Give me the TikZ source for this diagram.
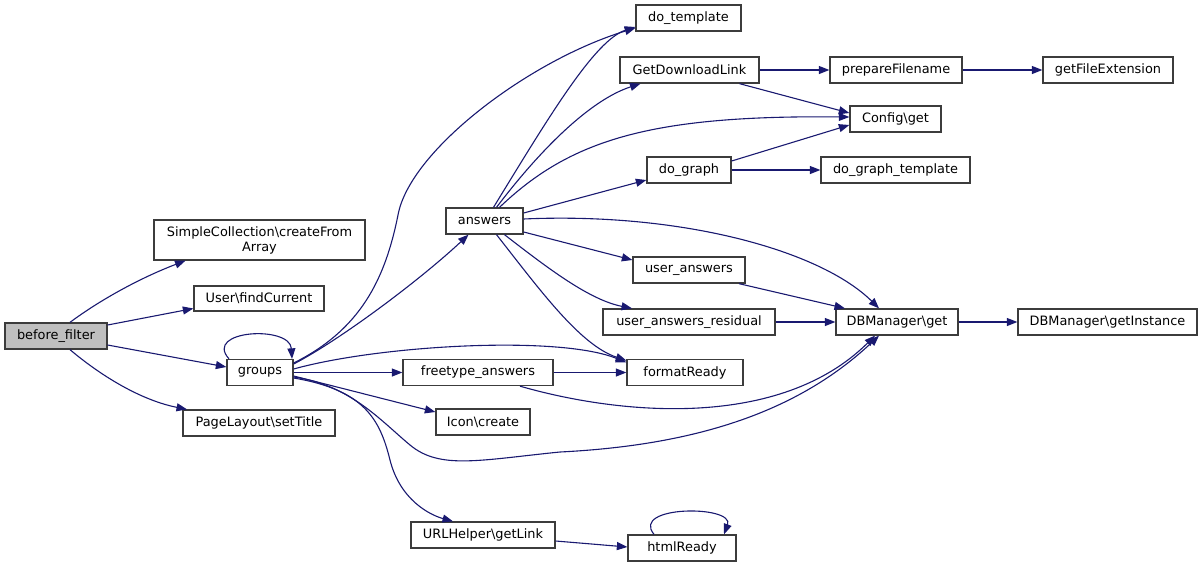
\documentclass[tikz,border=0pt]{standalone}
\usepackage{fontspec}
\setmainfont{DejaVu Sans}
\usetikzlibrary{arrows.meta}
\definecolor{edgec}{HTML}{191970}
\definecolor{boxc}{HTML}{3C3C3C}
\definecolor{rootc}{HTML}{BFBFBF}
\begin{document}
\begin{tikzpicture}[x=1pt,y=-1pt,
  font=\fontsize{12.9}{15}\selectfont,
  box/.style={draw=boxc, line width=1.3pt, fill=white, inner sep=0pt, minimum height=26pt},
  edge/.style={draw=edgec, line width=1.1pt, -{Triangle[length=10.5pt,width=8pt]}}]
\useasboundingbox (0,0) rectangle (1203,568);
% nodes
\node[box, fill=rootc, minimum width=102pt] (bf) at (56,336) {before\_filter};
\node[box, minimum width=211pt, minimum height=40pt, align=center] (sc) at (259.5,240) {SimpleCollection\textbackslash createFrom\\Array};
\node[box, minimum width=130pt, minimum height=25pt] (uf) at (259,298.5) {User\textbackslash findCurrent};
\node[box, minimum width=66pt] (gr) at (260,372.5) {groups};
\node[box, minimum width=152pt] (pl) at (259,423) {PageLayout\textbackslash setTitle};
\node[box, minimum width=77pt] (an) at (484.5,221) {answers};
\node[box, minimum width=105pt] (dt) at (688.5,18) {do\_template};
\node[box, minimum width=139pt] (gdl) at (689.5,70) {GetDownloadLink};
\node[box, minimum width=132pt] (pf) at (896,70) {prepareFilename};
\node[box, minimum width=130pt] (gfe) at (1108,70) {getFileExtension};
\node[box, minimum width=91pt] (cg) at (895.5,119) {Config\textbackslash get};
\node[box, minimum width=84pt] (dg) at (689,170) {do\_graph};
\node[box, minimum width=149pt] (dgt) at (895.5,170) {do\_graph\_template};
\node[box, minimum width=112pt] (ua) at (689,270) {user\_answers};
\node[box, minimum width=172pt] (uar) at (689,322) {user\_answers\_residual};
\node[box, minimum width=122pt] (dbg) at (897,322) {DBManager\textbackslash get};
\node[box, minimum width=179pt] (dbi) at (1107.5,322) {DBManager\textbackslash getInstance};
\node[box, minimum width=116pt] (fr) at (685,372.5) {formatReady};
\node[box, minimum width=150pt] (fa) at (478,372.5) {freetype\_answers};
\node[box, minimum width=94pt] (ic) at (483,422) {Icon\textbackslash create};
\node[box, minimum width=144pt] (ul) at (483,535) {URLHelper\textbackslash getLink};
\node[box, minimum width=108pt] (hr) at (682,548) {htmlReady};
% edges from before_filter
\draw[edge] ([xshift=14pt]bf.north) .. controls (100,300) and (140,278) .. ([xshift=-74pt]sc.south);
\draw[edge] ([yshift=11pt]bf.east) -- ([yshift=-10pt]uf.west);
\draw[edge] ([yshift=-9pt]bf.east) -- ([yshift=5.5pt]gr.west);
\draw[edge] ([xshift=14pt]bf.south) .. controls (100,375) and (140,400) .. ([xshift=-72pt]pl.north);
% edges from groups
\draw[edge] ([xshift=-31pt]gr.north) .. controls (203,330) and (290,325) .. ([xshift=32pt]gr.north);
\draw[edge] ([yshift=8.5pt]gr.east) .. controls (340,340) and (420,280) .. ([xshift=-16pt]an.south);
\draw[edge] ([yshift=9.5pt]gr.east) .. controls (360,330) and (385,280) .. (398,215) .. controls (410,150) and (530,60) .. ([yshift=-10pt]dt.west);
\draw[edge] ([yshift=3.5pt]gr.east) .. controls (380,345) and (560,335) .. ([yshift=10pt]fr.west);
\draw[edge] (gr.east) -- (fa.west);
\draw[edge] ([yshift=-3.5pt]gr.east) -- ([yshift=10pt]ic.west);
\draw[edge] ([yshift=-4.5pt]gr.east) .. controls (350,385) and (380,420) .. (410,445) .. controls (440,470) and (480,460) .. (560,452) .. controls (700,445) and (800,410) .. ([xshift=-18pt]dbg.south);
\draw[edge] ([yshift=-5.5pt]gr.east) .. controls (365,390) and (380,420) .. (390,460) .. controls (400,500) and (430,515) .. ([xshift=-30pt]ul.north);
% edges from answers
\draw[edge] ([xshift=9pt]an.north) .. controls (550,115) and (595,40) .. ([yshift=-9pt]dt.west);
\draw[edge] ([xshift=12pt]an.north) .. controls (540,150) and (590,100) .. ([xshift=-49pt]gdl.south);
\draw[edge] ([xshift=15pt]an.north) .. controls (570,140) and (650,115) .. ([yshift=2pt]cg.west);
\draw[edge] ([yshift=8pt]an.east) -- ([yshift=-10pt]dg.west);
\draw[edge] ([yshift=2pt]an.east) .. controls (680,212) and (820,250) .. ([xshift=-18pt]dbg.north);
\draw[edge] ([yshift=-11pt]an.east) -- ([yshift=10pt]ua.west);
\draw[edge] ([xshift=20pt]an.south) .. controls (550,270) and (590,300) .. ([xshift=-57pt]uar.north);
\draw[edge] ([xshift=12pt]an.south) .. controls (540,290) and (580,345) .. ([yshift=12pt]fr.west);
% other edges
\draw[edge] (gdl.east) -- (pf.west);
\draw[edge] ([xshift=50pt]gdl.south) -- ([yshift=6pt]cg.west);
\draw[edge] (pf.east) -- (gfe.west);
\draw[edge] ([yshift=9pt]dg.east) -- ([yshift=-6pt]cg.west);
\draw[edge] (dg.east) -- (dgt.west);
\draw[edge] ([xshift=50pt]ua.south) -- ([xshift=-52pt]dbg.north);
\draw[edge] (uar.east) -- (dbg.west);
\draw[edge] (dbg.east) -- (dbi.west);
\draw[edge] (fa.east) -- (fr.west);
\draw[edge] ([xshift=42pt]fa.south) .. controls (620,415) and (780,430) .. ([xshift=-22pt]dbg.south);
\draw[edge] ([yshift=-6pt]ul.east) -- ([yshift=1pt]hr.west);
\draw[edge] ([xshift=-28pt]hr.north) .. controls (630,505) and (735,505) .. ([xshift=42pt]hr.north);
\end{tikzpicture}
\end{document}
